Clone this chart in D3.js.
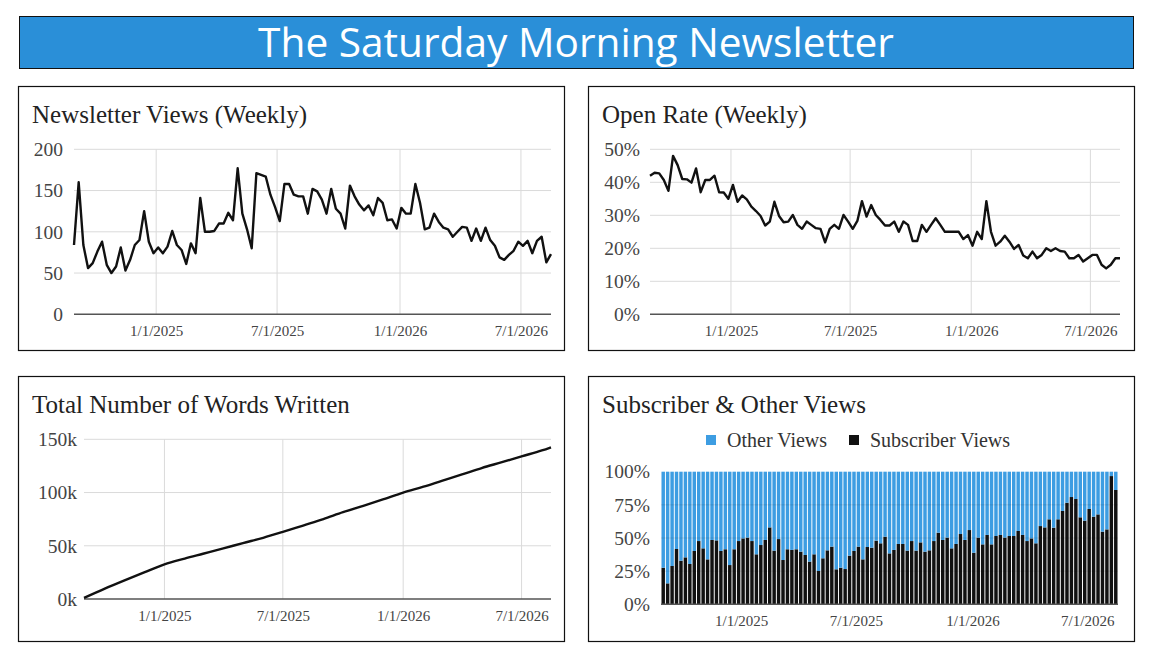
<!DOCTYPE html>
<html>
<head>
<meta charset="utf-8">
<title>The Saturday Morning Newsletter</title>
<script src="https://cdnjs.cloudflare.com/ajax/libs/d3/7.8.5/d3.min.js"></script>
<style>
  body { margin:0; padding:0; background:#fff; }
  svg text { font-family: "Liberation Serif", "Times New Roman", serif; }
</style>
</head>
<body>
<svg id="chart" width="1152" height="672"></svg>
<script>
// weekly issues, every Saturday
var weekStart = new Date(2024, 7, 31);
var weeks = d3.range(103).map(function(i){ return d3.timeDay.offset(weekStart, 7 * i); });
var tickDates = [new Date(2025,0,1), new Date(2025,6,1), new Date(2026,0,1), new Date(2026,6,1)];

var views = [84,160,84,56,62,76,88,60,50,58,
  81,53,66,84,90,125,88,74,81,74,
  82,101,84,78,61,86,74,141,100,100,
  101,110,110,123,114,177,122,103,80,171,
  169,167,145,130,113,158,158,145,143,143,
  122,152,149,139,122,152,128,122,104,156,
  143,133,126,132,120,141,135,114,115,104,
  129,122,122,158,135,103,105,122,112,105,
  103,94,100,106,105,89,104,89,105,90,
  83,69,66,72,77,88,83,89,74,89,
  94,63,73];

var openRate = [42.0,42.9,42.7,40.7,37.4,48.0,45.2,41.0,40.9,39.9,
  44.2,37.0,40.7,40.7,42.0,37.0,36.9,35.0,39.2,34.1,
  36.0,34.8,32.6,31.3,29.8,26.9,28.1,34.1,29.8,27.9,
  28.1,30.1,27.1,25.9,28.1,27.1,26.1,25.9,21.8,25.9,
  27.1,25.9,30.1,28.1,25.9,28.3,34.3,29.6,33.1,30.1,
  28.6,26.9,26.9,28.1,25.0,28.1,27.1,22.2,22.2,27.1,
  25.0,27.1,29.1,27.1,25.0,25.0,25.0,25.0,22.8,24.0,
  20.8,25.0,22.8,34.3,25.0,20.8,22.0,23.8,22.0,19.8,
  21.0,17.8,17.0,19.0,17.0,18.0,20.0,19.2,20.0,19.2,
  19.0,17.0,17.0,18.0,16.0,17.0,18.0,18.0,15.0,13.9,
  15.0,17.0,17.0];

var wordDates = ["2024-08-31","2024-10-01","2024-11-01","2024-12-01","2025-01-01","2025-02-01",
  "2025-03-01","2025-04-01","2025-05-01","2025-06-01","2025-07-01","2025-08-01","2025-09-01",
  "2025-10-01","2025-11-01","2025-12-01","2026-01-01","2026-02-01","2026-03-01","2026-04-01",
  "2026-05-01","2026-06-01","2026-07-01","2026-08-01","2026-08-15"];
var wordTotals = [1.0,9.5,17.5,25,32.6,38,42.5,47.5,52.5,57.5,63,69,75,
  81.5,87.5,93.5,100,105.5,111,117,123,128.5,134,139.5,142.5]; // thousands

var subscriberShare = [27.6,15.8,28.9,41.7,32.9,35.4,30.4,40.2,47.7,42.2,
  33.9,48.5,48.2,40.2,41.5,29.6,41.5,47.7,49.7,50.3,
  47.7,37.7,44.7,48.5,58.0,40.5,49.2,33.4,41.5,41.0,
  41.5,39.7,37.2,32.2,37.7,25.1,34.7,40.7,43.5,26.4,
  27.6,26.6,36.7,40.2,43.5,33.9,43.2,42.7,48.0,46.0,
  51.0,38.4,41.0,45.5,45.5,40.5,47.7,40.5,46.7,39.7,
  40.7,47.7,54.0,48.5,50.3,42.2,45.5,53.0,48.5,56.0,
  38.9,50.3,45.2,52.3,45.2,51.5,52.3,50.3,51.5,51.5,
  55.3,52.3,47.7,49.7,46.0,59.0,58.0,64.1,57.8,64.1,
  70.4,76.6,80.9,79.4,65.6,63.1,71.9,66.1,67.8,54.8,
  56.5,96.7,86.2];

var viewTicks = [0,50,100,150,200];
var rateTicks = [0,10,20,30,40,50];
var wordTicks = [0,50,100,150];
var shareTicks = [0,25,50,75,100];
var legendLabels = ["Other Views", "Subscriber Views"];

var BLUE = "#3d9de2";
var fmtDate = d3.timeFormat("%-m/%-d/%Y");
var parseDay = d3.timeParse("%Y-%m-%d");
var svg = d3.select("#chart");

// banner
svg.append("rect").attr("x", 19.5).attr("y", 16.5).attr("width", 1114).attr("height", 52)
  .attr("fill", "#2a8fd8").attr("stroke", "#111");
var banner = svg.append("text").attr("x", 576).attr("y", 57).attr("text-anchor", "middle")
  .attr("fill", "#fff").style("font-family", "'Open Sans', sans-serif")
  .attr("font-size", 36).text("The Saturday Morning Newsletter");
var bw = banner.node().getComputedTextLength();
banner.attr("font-size", 36 * 636 / bw);

function panel(x, y, w, h, title) {
  svg.append("rect").attr("x", x + 0.5).attr("y", y + 0.5).attr("width", w).attr("height", h)
    .attr("fill", "#fff").attr("stroke", "#111").attr("stroke-width", 1.2);
  svg.append("text").attr("x", x + 14).attr("y", y + 37).attr("font-size", 25)
    .attr("fill", "#222").text(title);
}

function yAxis(g, y, x0, ticks, fmt, pad) {
  g.append("g").attr("transform", "translate(" + x0 + ",0)")
    .call(d3.axisLeft(y).tickValues(ticks).tickFormat(fmt).tickSize(0).tickPadding(pad))
    .call(function(s){ s.select(".domain").remove(); })
    .attr("font-size", 19.5).attr("font-family", null).attr("color", "#444");
}

function xAxis(g, x, y0) {
  g.append("g").attr("transform", "translate(0," + y0 + ")")
    .call(d3.axisBottom(x).tickValues(tickDates).tickFormat(fmtDate).tickSize(0).tickPadding(11))
    .call(function(s){ s.select(".domain").remove(); })
    .attr("font-size", 15).attr("font-family", null).attr("color", "#444");
}

function lineChart(c) {
  var x = d3.scaleTime().domain([c.dates[0], c.dates[c.dates.length - 1]]).range([c.x0, c.x1]);
  var y = d3.scaleLinear().domain([0, c.yMax]).range([c.yBottom, c.yTop]);
  var g = svg.append("g");
  g.selectAll(".hg").data(c.ticks.filter(function(t){ return t > 0; })).enter().append("line")
    .attr("x1", c.x0).attr("x2", c.x1)
    .attr("y1", function(d){ return y(d); }).attr("y2", function(d){ return y(d); })
    .attr("stroke", "#dadada");
  g.selectAll(".vg").data(tickDates).enter().append("line")
    .attr("x1", function(d){ return x(d); }).attr("x2", function(d){ return x(d); })
    .attr("y1", y(c.yMax)).attr("y2", y(0))
    .attr("stroke", "#dadada");
  g.append("line").attr("x1", c.x0).attr("x2", c.x1).attr("y1", y(0)).attr("y2", y(0))
    .attr("stroke", "#555").attr("stroke-width", 1.5);
  yAxis(g, y, c.x0, c.ticks, c.fmt, c.pad);
  xAxis(g, x, y(0));
  var line = d3.line().curve(c.curve || d3.curveLinear)
    .x(function(d, i){ return x(c.dates[i]); }).y(function(d){ return y(d); });
  g.append("path").datum(c.values).attr("d", line).attr("fill", "none")
    .attr("stroke", "#111").attr("stroke-width", 2.4).attr("stroke-linejoin", "round");
}

// panel 1
panel(18, 86, 546, 264, "Newsletter Views (Weekly)");
lineChart({dates: weeks, values: views, x0: 74, x1: 551, yTop: 149.3, yBottom: 314.3,
  yMax: 200, ticks: viewTicks, fmt: d3.format("d"), pad: 11});

// panel 2
panel(588, 86, 546, 264, "Open Rate (Weekly)");
lineChart({dates: weeks, values: openRate, x0: 650, x1: 1120, yTop: 149.3, yBottom: 314.3,
  yMax: 50, ticks: rateTicks, fmt: function(d){ return d + "%"; }, pad: 10});

// panel 3
panel(18, 376, 546, 265, "Total Number of Words Written");
lineChart({dates: wordDates.map(parseDay), values: wordTotals, x0: 84, x1: 551, yTop: 439.3, yBottom: 599,
  yMax: 150, ticks: wordTicks, fmt: function(d){ return d + "k"; }, pad: 7, curve: d3.curveMonotoneX});

// panel 4: stacked 100% bars
panel(588, 376, 546, 265, "Subscriber & Other Views");
(function() {
  var half = 3.5 * 864e5;
  var x = d3.scaleTime().domain([new Date(+weeks[0] - half), new Date(+weeks[102] + half)]).range([661, 1118]);
  var y = d3.scaleLinear().domain([0, 100]).range([604.3, 471.7]);
  var step = x(weeks[1]) - x(weeks[0]);
  var rows = weeks.map(function(d, i){ return {date: d, subscriber: subscriberShare[i], other: 100 - subscriberShare[i]}; });
  var series = d3.stack().keys(["subscriber", "other"])(rows);
  var colors = {subscriber: "#111", other: BLUE};
  var g = svg.append("g");
  g.selectAll(".s").data(series).enter().append("g").attr("fill", function(s){ return colors[s.key]; })
    .selectAll("rect").data(function(s){ return s; }).enter().append("rect")
    .attr("x", function(d){ return x(d.data.date) - step * 0.39; })
    .attr("width", step * 0.78)
    .attr("y", function(d){ return y(d[1]); })
    .attr("height", function(d){ return y(d[0]) - y(d[1]); });
  g.selectAll(".hg").data([25, 50, 75]).enter().append("line")
    .attr("x1", 661).attr("x2", 1118)
    .attr("y1", function(d){ return y(d); }).attr("y2", function(d){ return y(d); })
    .attr("stroke", "rgba(0,0,0,0.10)");
  g.append("line").attr("x1", 661).attr("x2", 1118).attr("y1", y(0)).attr("y2", y(0))
    .attr("stroke", "#555").attr("stroke-width", 1.5);
  yAxis(g, y, 661, shareTicks, function(d){ return d + "%"; }, 11);
  xAxis(g, x, y(0));

  // legend
  var lg = svg.append("g").attr("font-size", 20).attr("fill", "#333");
  var items = [{label: legendLabels[0], color: BLUE, x: 706}, {label: legendLabels[1], color: "#111", x: 849}];
  lg.selectAll("rect").data(items).enter().append("rect")
    .attr("x", function(d){ return d.x; }).attr("y", 435).attr("width", 10).attr("height", 10)
    .attr("fill", function(d){ return d.color; });
  lg.selectAll("text").data(items).enter().append("text")
    .attr("x", function(d){ return d.x + 21; }).attr("y", 447)
    .text(function(d){ return d.label; });
})();
</script>
</body>
</html>
